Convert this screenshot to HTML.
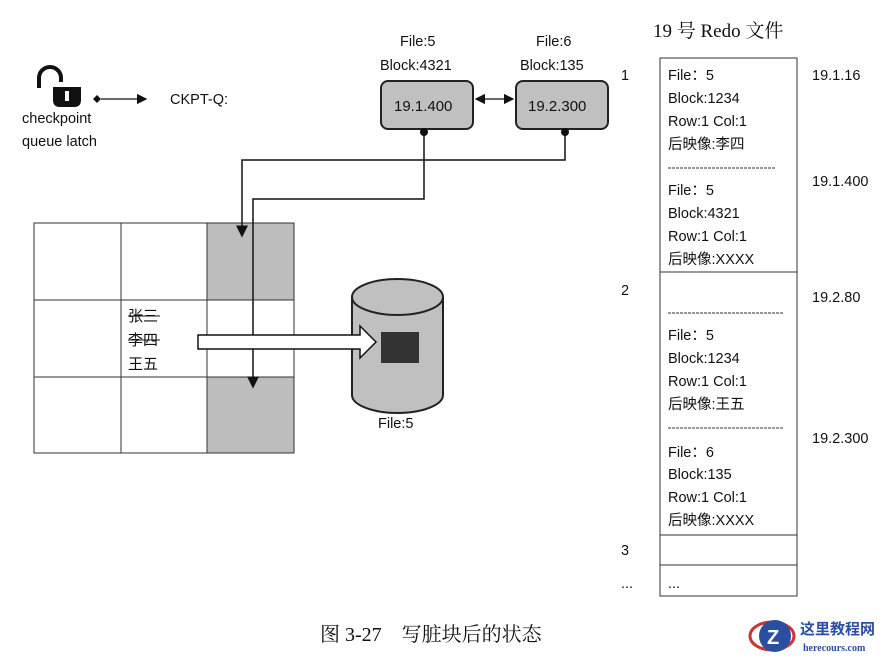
<!DOCTYPE html>
<html><head><meta charset="utf-8"><style>
body{margin:0;background:#fff;}
svg{display:block;}
.t{font-family:"Liberation Sans","Noto Sans CJK SC",sans-serif;font-size:14.5px;fill:#111;}
.s{font-family:"Liberation Serif","Noto Serif CJK SC",serif;fill:#111;}
</style></head><body>
<svg width="889" height="658" viewBox="0 0 889 658" xmlns="http://www.w3.org/2000/svg">
<defs><marker id="ah" markerWidth="8" markerHeight="8" refX="7" refY="4" orient="auto-start-reverse"><path d="M0,0 L8,4 L0,8 Z" fill="#111"/></marker></defs>
<path d="M39,88 V78 A11,11 0 0 1 61,78 V82" fill="none" stroke="#111" stroke-width="4"/>
<path d="M53,87 H81 V100 Q81,107 74,107 H60 Q53,107 53,100 Z" fill="#111"/>
<rect x="65" y="91" width="4" height="10" fill="#fff"/>
<text class="t" x="22" y="123">checkpoint</text>
<text class="t" x="22" y="146">queue latch</text>
<path d="M97,95 L101,99 L97,103 L93,99 Z" fill="#111"/>
<line x1="101" y1="99" x2="146" y2="99" stroke="#111" stroke-width="1.3" marker-end="url(#ah)"/>
<text class="t" x="170" y="104">CKPT-Q:</text>
<text class="t" x="400" y="46">File:5</text>
<text class="t" x="380" y="70">Block:4321</text>
<text class="t" x="536" y="46">File:6</text>
<text class="t" x="520" y="70">Block:135</text>
<rect x="381" y="81" width="92" height="48" rx="7" fill="#c0c0c0" stroke="#222" stroke-width="2"/>
<rect x="516" y="81" width="92" height="48" rx="7" fill="#c0c0c0" stroke="#222" stroke-width="2"/>
<text class="t" x="394" y="111" style="font-size:15px">19.1.400</text>
<text class="t" x="528" y="111" style="font-size:15px">19.2.300</text>
<line x1="476" y1="99" x2="513" y2="99" stroke="#111" stroke-width="1.3" marker-end="url(#ah)" marker-start="url(#ah)"/>
<circle cx="424" cy="132" r="4" fill="#111"/>
<circle cx="565" cy="132" r="4" fill="#111"/>
<rect x="207" y="223" width="87" height="77" fill="#bdbdbd"/>
<rect x="207" y="377" width="87" height="76" fill="#bdbdbd"/>
<g stroke="#333" stroke-width="1" fill="none">
<rect x="34" y="223" width="260" height="230"/>
<line x1="121" y1="223" x2="121" y2="453"/><line x1="207" y1="223" x2="207" y2="453"/>
<line x1="34" y1="300" x2="294" y2="300"/><line x1="34" y1="377" x2="294" y2="377"/>
</g>
<polyline points="565,132 565,160 242,160 242,236" fill="none" stroke="#111" stroke-width="1.5" marker-end="url(#ah)"/>
<polyline points="424,132 424,199 253,199 253,387" fill="none" stroke="#111" stroke-width="1.5" marker-end="url(#ah)"/>
<text class="t" x="128" y="321" style="font-size:15px">张三</text>
<text class="t" x="128" y="345" style="font-size:15px">李四</text>
<text class="t" x="128" y="369" style="font-size:15px">王五</text>
<line x1="128" y1="316" x2="160" y2="316" stroke="#111"/>
<line x1="128" y1="340" x2="160" y2="340" stroke="#111"/>
<path d="M352,297 V395 A45.5,18 0 0 0 443,395 V297" fill="#c0c0c0" stroke="#222" stroke-width="2"/>
<ellipse cx="397.5" cy="297" rx="45.5" ry="18" fill="#c0c0c0" stroke="#222" stroke-width="2"/>
<rect x="381" y="332" width="38" height="31" fill="#333"/>
<path d="M198,335 H360 V326 L376,342 L360,358 V349 H198 Z" fill="#fff" stroke="#111" stroke-width="1.5"/>
<text class="t" x="378" y="428">File:5</text>
<text class="s" x="653" y="37" style="font-size:19px">19 号 Redo 文件</text>
<g stroke="#333" fill="none"><rect x="660" y="58" width="137" height="538"/>
<line x1="660" y1="272" x2="797" y2="272"/><line x1="660" y1="535" x2="797" y2="535"/><line x1="660" y1="565" x2="797" y2="565"/></g>
<g stroke="#333" stroke-dasharray="3,1"><line x1="668" y1="168" x2="776" y2="168"/><line x1="668" y1="313" x2="783" y2="313"/><line x1="668" y1="428" x2="783" y2="428"/></g>
<g class="t">
<text x="668" y="80">File：5</text><text x="668" y="103">Block:1234</text><text x="668" y="126">Row:1  Col:1</text><text x="668" y="149">后映像:李四</text>
<text x="668" y="195">File：5</text><text x="668" y="218">Block:4321</text><text x="668" y="241">Row:1  Col:1</text><text x="668" y="264">后映像:XXXX</text>
<text x="668" y="340">File：5</text><text x="668" y="363">Block:1234</text><text x="668" y="386">Row:1  Col:1</text><text x="668" y="409">后映像:王五</text>
<text x="668" y="457">File：6</text><text x="668" y="479">Block:135</text><text x="668" y="502">Row:1  Col:1</text><text x="668" y="525">后映像:XXXX</text>
<text x="668" y="588">...</text>
<text x="621" y="80">1</text><text x="621" y="295">2</text><text x="621" y="555">3</text><text x="621" y="588">...</text>
<text x="812" y="80">19.1.16</text><text x="812" y="186">19.1.400</text><text x="812" y="302">19.2.80</text><text x="812" y="443">19.2.300</text>
</g>
<text class="s" x="320" y="641" style="font-size:20px">图 3-27　写脏块后的状态</text>
<ellipse cx="772" cy="636" rx="22" ry="14" fill="none" stroke="#c33" stroke-width="3"/>
<circle cx="775" cy="636" r="16" fill="#2a4fa0"/>
<text x="767" y="644" style="font-family:'Liberation Sans',sans-serif;font-size:20px;font-weight:bold;fill:#fff">Z</text>
<text x="800" y="634" style="font-family:'Noto Sans CJK SC',sans-serif;font-size:15px;font-weight:bold;fill:#2a4fa0">这里教程网</text>
<text x="803" y="651" style="font-family:'Liberation Serif',serif;font-size:10px;font-weight:bold;fill:#2a4fa0">herecours.com</text>
</svg>
</body></html>
